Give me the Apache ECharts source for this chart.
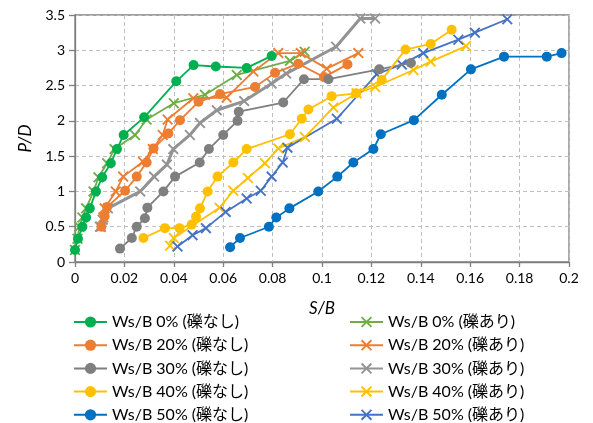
<!DOCTYPE html>
<html><head><meta charset="utf-8">
<script src="https://cdn.jsdelivr.net/npm/echarts@6/dist/echarts.min.js"></script>
<style>html,body{margin:0;padding:0;background:#fff}#c{width:593px;height:423px}</style>
</head><body><div id="c"></div>
<script>
// Tick settings
const xTicks = {min: 0, max: 0.2, interval: 0.02};
const yTicks = {min: 0, max: 3.5, interval: 0.5};
const xTitle = 'S/B';
const yTitle = 'P/D';

// Series names
const namesNone = ['Ws/B 0% (礫なし)', 'Ws/B 20% (礫なし)', 'Ws/B 30% (礫なし)', 'Ws/B 40% (礫なし)', 'Ws/B 50% (礫なし)'];
const namesGravel = ['Ws/B 0% (礫あり)', 'Ws/B 20% (礫あり)', 'Ws/B 30% (礫あり)', 'Ws/B 40% (礫あり)', 'Ws/B 50% (礫あり)'];

// [S/B, P/D]
const ws0None = [[0,0.17],[0.0012,0.33],[0.003,0.5],[0.0045,0.63],[0.006,0.76],[0.0085,1.0],[0.011,1.2],[0.0145,1.4],[0.017,1.6],[0.0197,1.8],[0.028,2.05],[0.041,2.56],[0.048,2.79],[0.057,2.77],[0.0695,2.75],[0.0796,2.92]];
const ws0Gravel = [[0,0.17],[0.001,0.33],[0.0018,0.5],[0.003,0.63],[0.0045,0.76],[0.0075,1.0],[0.0095,1.2],[0.013,1.4],[0.016,1.6],[0.0243,1.8],[0.029,2.02],[0.040,2.25],[0.0526,2.37],[0.0655,2.65],[0.087,2.85],[0.093,2.98]];
const ws20None = [[0.0107,0.5],[0.012,0.65],[0.013,0.78],[0.0203,1.01],[0.025,1.21],[0.029,1.41],[0.0318,1.61],[0.0378,1.82],[0.0425,2.01],[0.05,2.27],[0.0587,2.38],[0.0729,2.48],[0.081,2.68],[0.0904,2.81],[0.1008,2.62],[0.1103,2.8]];
const ws20Gravel = [[0.0105,0.5],[0.0115,0.63],[0.012,0.76],[0.0165,1.0],[0.0195,1.21],[0.0275,1.42],[0.0315,1.6],[0.0355,1.8],[0.0375,2.02],[0.0479,2.32],[0.0614,2.33],[0.0722,2.7],[0.0823,2.96],[0.0914,2.96],[0.1019,2.74],[0.1147,2.96]];
const ws30None = [[0.0182,0.19],[0.023,0.34],[0.025,0.5],[0.0283,0.62],[0.0293,0.77],[0.0358,1.0],[0.0405,1.21],[0.0505,1.41],[0.0542,1.6],[0.06,1.8],[0.0658,2.0],[0.0663,2.13],[0.0843,2.26],[0.0927,2.59],[0.1026,2.59],[0.1232,2.73],[0.136,2.82]];
const ws30Gravel = [[0.0101,0.5],[0.0112,0.6],[0.0133,0.76],[0.0264,1.0],[0.032,1.21],[0.0372,1.38],[0.0398,1.6],[0.0465,1.8],[0.0506,1.97],[0.0574,2.15],[0.0685,2.28],[0.0796,2.53],[0.0855,2.67],[0.1057,3.05],[0.1155,3.45],[0.1215,3.45]];
const ws40None = [[0.0277,0.34],[0.0364,0.48],[0.0423,0.48],[0.0472,0.53],[0.049,0.64],[0.0506,0.76],[0.0537,1.0],[0.0577,1.21],[0.0641,1.41],[0.0695,1.6],[0.087,1.81],[0.0918,2.03],[0.0945,2.16],[0.1039,2.35],[0.1138,2.39],[0.1242,2.58],[0.1338,3.01],[0.144,3.09],[0.1525,3.29]];
const ws40Gravel = [[0.0385,0.23],[0.04,0.34],[0.0585,0.77],[0.0641,1.01],[0.07,1.19],[0.0769,1.4],[0.0823,1.61],[0.0931,1.77],[0.1046,2.19],[0.114,2.39],[0.1215,2.48],[0.137,2.72],[0.144,2.84],[0.1583,3.06]];
const ws50None = [[0.0628,0.21],[0.0668,0.34],[0.0785,0.5],[0.0815,0.63],[0.0868,0.76],[0.0985,1.0],[0.1062,1.21],[0.1127,1.41],[0.1208,1.6],[0.1238,1.81],[0.1372,2.01],[0.1485,2.37],[0.1603,2.73],[0.1737,2.91],[0.191,2.91],[0.197,2.96]];
const ws50Gravel = [[0.0415,0.22],[0.0476,0.38],[0.053,0.48],[0.061,0.71],[0.0695,0.9],[0.0752,1.01],[0.0796,1.21],[0.0841,1.41],[0.086,1.62],[0.106,2.03],[0.1221,2.66],[0.1323,2.8],[0.141,2.96],[0.1552,3.15],[0.1619,3.25],[0.175,3.44]];

const dataNone = [ws0None, ws20None, ws30None, ws40None, ws50None];
const dataGravel = [ws0Gravel, ws20Gravel, ws30Gravel, ws40Gravel, ws50Gravel];
const colorsNone = ['#00B050', '#ED7D31', '#7F7F7F', '#FFC000', '#0070C0'];
const colorsGravel = ['#70AD47', '#ED7D31', '#939393', '#FFC000', '#4472C4'];
const widthsGravel = [1.8, 1.8, 3, 1.8, 1.8];

const crossPath = 'path://M0,1.2 L1.2,0 L5,3.8 L8.8,0 L10,1.2 L6.2,5 L10,8.8 L8.8,10 L5,6.2 L1.2,10 L0,8.8 L3.8,5 Z';
const FONT = 'Lato, "Noto Sans CJK JP", sans-serif';

const series = [];
for (let i = 0; i < 5; i++) {
  series.push({
    name: namesNone[i], type: 'line', data: dataNone[i],
    symbol: 'circle', symbolSize: 10, showSymbol: true,
    itemStyle: {color: colorsNone[i]},
    lineStyle: {color: colorsNone[i], width: 1.8},
    emphasis: {disabled: true}, animation: false, z: 3
  });
  series.push({
    name: namesGravel[i], type: 'line', data: dataGravel[i],
    symbol: crossPath, symbolSize: 11, showSymbol: true,
    itemStyle: {color: colorsGravel[i]},
    lineStyle: {color: colorsGravel[i], width: widthsGravel[i]},
    emphasis: {disabled: true}, animation: false, z: 2
  });
}

const legendCommon = {
  orient: 'vertical', top: 314, height: 140, padding: 0,
  itemWidth: 33, itemHeight: 14, itemGap: 7.2,
  textStyle: {fontFamily: FONT, fontSize: 16, lineHeight: 14, color: '#000'},
  selectedMode: false
};

const chart = echarts.init(document.getElementById('c'), null, {renderer: 'canvas'});
chart.setOption({
  backgroundColor: '#fff',
  animation: false,
  grid: {left: 75, right: 24, top: 15, bottom: 161, show: true, borderColor: '#7F7F7F', borderWidth: 1.3, containLabel: false},
  legend: [
    Object.assign({left: 73, data: namesNone}, legendCommon),
    Object.assign({left: 349, data: namesGravel}, legendCommon)
  ],
  xAxis: {
    type: 'value', min: xTicks.min, max: xTicks.max, interval: xTicks.interval,
    name: xTitle, nameLocation: 'middle', nameGap: 38,
    nameTextStyle: {fontFamily: FONT, fontSize: 17, fontStyle: 'italic', color: '#000'},
    axisLine: {show: true, lineStyle: {color: '#7F7F7F', width: 1.3}},
    axisTick: {show: true, length: 5, lineStyle: {color: '#7F7F7F', width: 1.3}},
    axisLabel: {fontFamily: FONT, fontSize: 14, color: '#000', margin: 9,
      formatter: v => String(+v.toFixed(2))},
    splitLine: {show: true, lineStyle: {color: '#BFBFBF', type: [4, 3], width: 1}}
  },
  yAxis: {
    type: 'value', min: yTicks.min, max: yTicks.max, interval: yTicks.interval,
    name: yTitle, nameLocation: 'middle', nameGap: 41, nameRotate: 90,
    nameTextStyle: {fontFamily: FONT, fontSize: 17, fontStyle: 'italic', color: '#000'},
    axisLine: {show: true, lineStyle: {color: '#7F7F7F', width: 1.3}},
    axisTick: {show: true, length: 6, lineStyle: {color: '#7F7F7F', width: 1.3}},
    axisLabel: {fontFamily: FONT, fontSize: 14, color: '#000', margin: 10,
      formatter: v => String(+v.toFixed(1))},
    splitLine: {show: true, lineStyle: {color: '#BFBFBF', type: [4, 3], width: 1}}
  },
  series: series
});
</script></body></html>
